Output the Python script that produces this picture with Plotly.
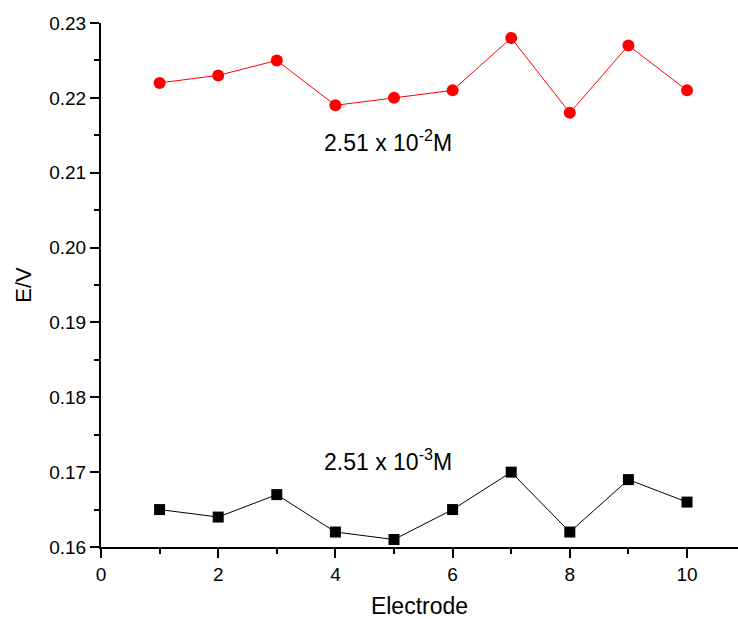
import plotly.graph_objects as go

electrode = [1, 2, 3, 4, 5, 6, 7, 8, 9, 10]
e_high = [0.222, 0.223, 0.225, 0.219, 0.220, 0.221, 0.228, 0.218, 0.227, 0.221]
e_low = [0.165, 0.164, 0.167, 0.162, 0.161, 0.165, 0.170, 0.162, 0.169, 0.166]
label_high = "2.51 x 10<sup>-2</sup>M"
label_low = "2.51 x 10<sup>-3</sup>M"

fig = go.Figure()
fig.add_trace(go.Scatter(x=electrode, y=e_high, mode="lines+markers",
                         line=dict(color="red", width=1),
                         marker=dict(symbol="circle", size=12, color="red"),
                         showlegend=False, cliponaxis=False))
fig.add_trace(go.Scatter(x=electrode, y=e_low, mode="lines+markers",
                         line=dict(color="black", width=1),
                         marker=dict(symbol="square", size=11, color="black"),
                         showlegend=False, cliponaxis=False))

fig.add_annotation(x=4.9, y=0.2143, text=label_high, showarrow=False,
                   font=dict(size=23, color="black", family="Liberation Sans, Arial"))
fig.add_annotation(x=4.9, y=0.1716, text=label_low, showarrow=False,
                   font=dict(size=23, color="black", family="Liberation Sans, Arial"))

axis_common = dict(showline=True, linecolor="black", linewidth=2, ticks="outside",
                   ticklen=9, tickwidth=2, tickcolor="black", showgrid=False,
                   zeroline=False, mirror=False,
                   tickfont=dict(size=19, color="black", family="Liberation Sans, Arial"))

fig.update_xaxes(range=[0, 10.87], dtick=2, tick0=0,
                 minor=dict(dtick=1, ticks="outside", ticklen=5, tickwidth=2, tickcolor="black"),
                 title=dict(text="Electrode", font=dict(size=23, color="black", family="Liberation Sans, Arial"),
                            standoff=14),
                 **axis_common)
fig.update_yaxes(range=[0.16, 0.23], dtick=0.01, tick0=0.16, tickformat=".2f",
                 minor=dict(dtick=0.005, ticks="outside", ticklen=5, tickwidth=2, tickcolor="black"),
                 title=dict(text="E/V", font=dict(size=22, color="black", family="Liberation Sans, Arial"),
                            standoff=12),
                 **axis_common)

fig.update_layout(width=738, height=619, plot_bgcolor="white", paper_bgcolor="white",
                  margin=dict(l=101, r=0, t=23, b=72))

fig.write_html("out.html")
